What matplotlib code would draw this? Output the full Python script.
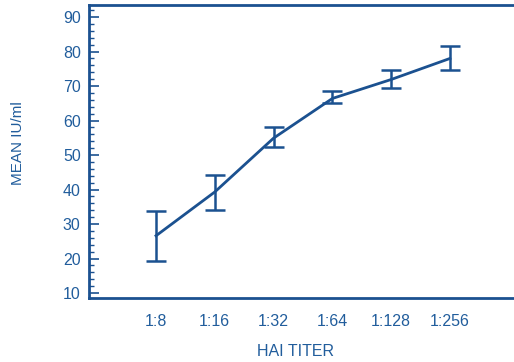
import matplotlib
matplotlib.use("Agg")
import matplotlib.pyplot as plt
from matplotlib.ticker import MultipleLocator

titers = ["1:8", "1:16", "1:32", "1:64", "1:128", "1:256"]
mean_iu = [26.6, 39.3, 54.9, 66.4, 71.9, 78.0]
err_low = [19.3, 34.1, 52.4, 65.0, 69.3, 74.6]
err_high = [33.9, 44.2, 58.0, 68.6, 74.6, 81.6]

color = "#1b5190"
text_color = "#215d9c"
plt.rcParams['font.family'] = ['Liberation Sans', 'DejaVu Sans']

fig = plt.figure(figsize=(5.14, 3.62), dpi=100)
ax = fig.add_axes([89/514, (362-297.5)/362, (514-89)/514, 292.5/362])

x = list(range(len(titers)))
yerr = [[m - l for m, l in zip(mean_iu, err_low)],
        [h - m for m, h in zip(mean_iu, err_high)]]
ax.errorbar(x, mean_iu, yerr=yerr, color=color, lw=2, capsize=7.5,
            capthick=1.8, elinewidth=1.8)

ax.set_xlim(-1.14, 6.09)
ax.set_ylim(8.7, 93.5)
ax.set_xticks(x)
ax.set_xticklabels(titers)
ax.yaxis.set_major_locator(MultipleLocator(10))
ax.yaxis.set_minor_locator(MultipleLocator(2))
ax.tick_params(axis='y', which='major', direction='in', length=7, width=1.2,
               color=color, labelcolor=text_color, labelsize=11.5, pad=6)
ax.tick_params(axis='y', which='minor', direction='in', length=3.5, width=1,
               color=color)
ax.tick_params(axis='x', length=0, labelcolor=text_color, labelsize=11.5, pad=12)

for s in ['left', 'top', 'bottom']:
    ax.spines[s].set_color(color)
    ax.spines[s].set_linewidth(2)
ax.spines['right'].set_visible(False)

ax.set_ylabel("MEAN IU/ml", color=text_color, fontsize=11)
ax.set_xlabel("HAI TITER", color=text_color, fontsize=11.5)
ax.yaxis.set_label_coords(-0.167, 0.528)
ax.xaxis.set_label_coords(0.485, -0.183)
ax.xaxis.label.set_va('center')
ax.yaxis.label.set_va('center')

fig.savefig("out.png", dpi=100)
